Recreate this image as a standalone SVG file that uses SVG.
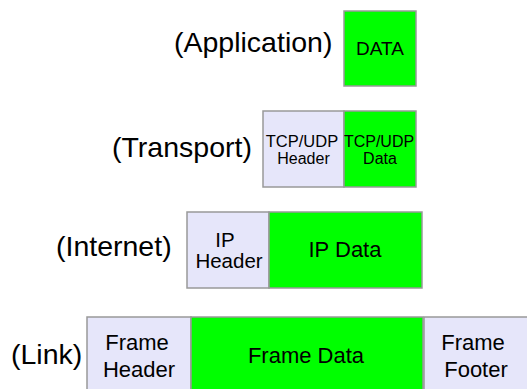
<svg xmlns="http://www.w3.org/2000/svg" width="527" height="389" viewBox="0 0 527 389">
<style>
text{font-family:"Liberation Sans",Arial,sans-serif;fill:#000}
.lbl{font-size:28.5px;text-anchor:start}
.hdr{fill:#e6e6fa;stroke:#999;stroke-width:1.5}
.dat{fill:#00ff00;stroke:#999;stroke-width:1.5}
.c{text-anchor:middle}
</style>
<rect width="527" height="389" fill="#fff"/>
<g id="layer-labels">
<text class="lbl" x="174" y="52">(Application)</text>
<text class="lbl" x="112" y="157">(Transport)</text>
<text class="lbl" x="56" y="256">(Internet)</text>
<text class="lbl" x="11" y="364">(Link)</text>
</g>
<g id="app-data">
<rect class="dat" x="344" y="11" width="72" height="75"/>
<text class="c" x="380" y="55" font-size="19">DATA</text>
</g>
<g id="tcp-header">
<rect class="hdr" x="263" y="111" width="81" height="76"/>
<text class="c" x="302" y="147" font-size="16.5">TCP/UDP</text>
<text class="c" x="303.5" y="164" font-size="16">Header</text>
</g>
<g id="tcp-data">
<rect class="dat" x="344" y="111" width="72" height="76"/>
<text class="c" x="379" y="147" font-size="16">TCP/UDP</text>
<text class="c" x="380" y="164" font-size="16">Data</text>
</g>
<g id="ip-header">
<rect class="hdr" x="187" y="212" width="82" height="76"/>
<text class="c" x="225" y="247" font-size="20.5">IP</text>
<text class="c" x="229" y="268" font-size="20.5">Header</text>
</g>
<g id="ip-data">
<rect class="dat" x="269" y="212" width="153" height="76"/>
<text class="c" x="345" y="257" font-size="22">IP Data</text>
</g>
<g id="frame-header">
<rect class="hdr" x="87" y="317" width="104" height="80"/>
<text class="c" x="137" y="350" font-size="22">Frame</text>
<text class="c" x="139" y="377" font-size="22">Header</text>
</g>
<g id="frame-data">
<rect class="dat" x="191" y="317" width="232" height="80"/>
<text class="c" x="306" y="363" font-size="22">Frame Data</text>
</g>
<g id="frame-footer">
<rect class="hdr" x="424" y="317" width="110" height="80"/>
<text class="c" x="473" y="350" font-size="22">Frame</text>
<text class="c" x="476" y="377" font-size="22">Footer</text>
</g>
<g id="connectors"/>
</svg>
